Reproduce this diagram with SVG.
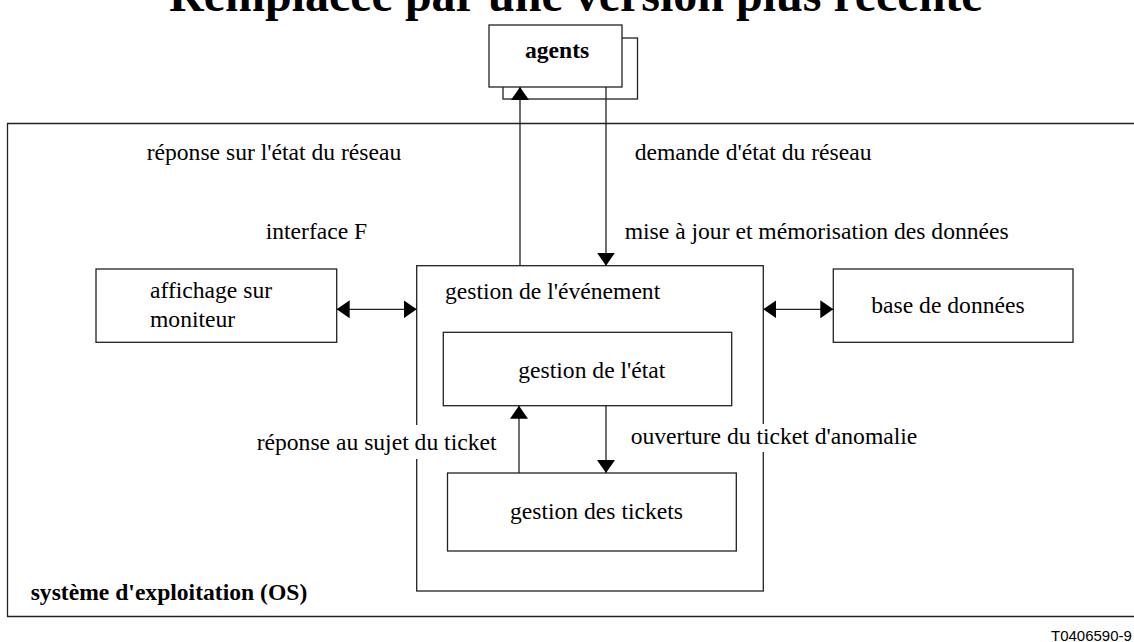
<svg xmlns="http://www.w3.org/2000/svg" width="1134" height="642" viewBox="0 0 1134 642">
<style>
  .box { fill: #fff; stroke: #222; stroke-width: 1.3; }
  .frame { fill: none; stroke: #222; stroke-width: 1.3; }
  .t { font-family: "Liberation Serif", "Times New Roman", serif; font-size: 23.6px; fill: #000; }
  .b { font-weight: bold; }
  .c { stroke: #222; stroke-width: 1.3; fill: none; }
  .bg { fill: #fff; stroke: none; }
</style>
<defs>
  <marker id="ah" viewBox="0 0 13 18" refX="13" refY="9" markerWidth="13" markerHeight="18" markerUnits="userSpaceOnUse" orient="auto-start-reverse">
    <path d="M0,0 L13,9 L0,18 Z" fill="#000"/>
  </marker>
</defs>
<rect width="1134" height="642" fill="#fff"/>
<text class="t b" x="169" y="11" style="font-size:48px">Remplacée par une version plus récente</text>

<g id="os">
  <path class="frame" d="M1134,123.5 H7.5 V616.5 H1134"/>
  <text class="t b" x="30.7" y="600.3">système d'exploitation (OS)</text>
</g>

<g id="agents">
  <rect class="box" x="503" y="38" width="134.5" height="61"/>
  <rect class="box" x="489" y="25" width="133" height="62"/>
  <text class="t b" x="525" y="58">agents</text>
</g>

<g id="affichage">
  <rect class="box" x="96" y="269" width="240.7" height="73.3"/>
  <text class="t" x="150" y="298">affichage sur</text>
  <text class="t" x="150" y="327">moniteur</text>
</g>

<g id="evenement">
  <rect class="box" x="416.7" y="265.7" width="346.6" height="325.3"/>
  <text class="t" x="445" y="299.3">gestion de l'événement</text>
</g>

<g id="etat">
  <rect class="box" x="443.3" y="332.3" width="288.4" height="73.4"/>
  <text class="t" x="518.3" y="378.3">gestion de l'état</text>
</g>

<g id="tickets">
  <rect class="box" x="447.5" y="473" width="288.8" height="78"/>
  <text class="t" x="510" y="519.3">gestion des tickets</text>
</g>

<g id="base">
  <rect class="box" x="833.3" y="269" width="239.7" height="73.3"/>
  <text class="t" x="871.3" y="313.3">base de données</text>
</g>

<g id="connectors">
  <line class="c" x1="520" y1="265.7" x2="520" y2="87" marker-end="url(#ah)"/>
  <line class="c" x1="606" y1="87" x2="606" y2="265.7" marker-end="url(#ah)"/>
  <line class="c" x1="336.7" y1="309.3" x2="416.7" y2="309.3" marker-start="url(#ah)" marker-end="url(#ah)"/>
  <line class="c" x1="763.3" y1="309.3" x2="833.3" y2="309.3" marker-start="url(#ah)" marker-end="url(#ah)"/>
  <line class="c" x1="519" y1="473" x2="519" y2="405.7" marker-end="url(#ah)"/>
  <line class="c" x1="606" y1="405.7" x2="606" y2="473" marker-end="url(#ah)"/>
</g>

<g id="labels">
  <text class="t" x="146.7" y="160">réponse sur l'état du réseau</text>
  <text class="t" x="634.7" y="160">demande d'état du réseau</text>
  <text class="t" x="265.7" y="239">interface F</text>
  <text class="t" x="624.7" y="238.5">mise à jour et mémorisation des données</text>
  <rect class="bg" x="410" y="425" width="14" height="34"/>
  <text class="t" x="256.7" y="450.3">réponse au sujet du ticket</text>
  <rect class="bg" x="756" y="424" width="14" height="28"/>
  <text class="t" x="630.7" y="444.3">ouverture du ticket d'anomalie</text>
  <text x="1051" y="641" style="font-family:'Liberation Sans',Arial,sans-serif;font-size:15px;fill:#000">T0406590-9</text>
</g>
</svg>
